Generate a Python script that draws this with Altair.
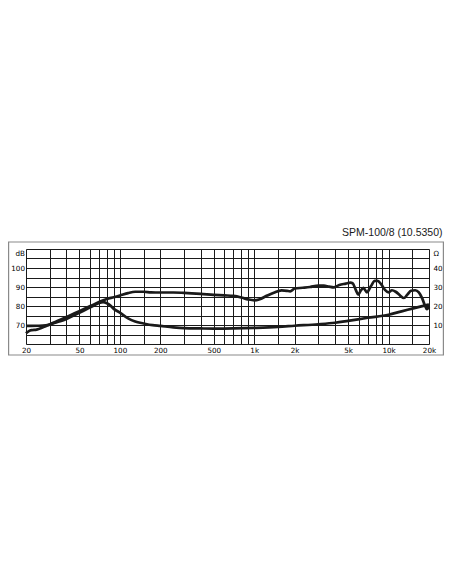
import altair as alt
import pandas as pd

# ---- data ----
title_text = "SPM-100/8 (10.5350)"

spl_freq = [20, 21, 22, 24, 26, 28, 30, 33, 36, 40, 46, 54, 63, 72, 80, 90, 100, 115, 130, 150,
            170, 200, 250, 300, 400, 500, 600, 700, 800, 900, 1000, 1100, 1250, 1400, 1600, 1750,
            1850, 2000, 2300, 2600, 3000, 3300, 3600, 3900, 4300, 4800, 5200, 5400, 5700, 5950,
            6200, 6500, 6900, 7400, 7900, 8300, 8800, 9400, 10000, 10600, 11300, 12200, 13000,
            13800, 14700, 15800, 16800, 17800, 18600, 19300, 20000]
spl_db = [65.6, 66.8, 67.3, 67.6, 68.4, 69.4, 70.3, 71.6, 72.8, 74.2, 76.2, 78.4, 80.6, 82.5, 83.7,
          84.6, 85.5, 86.8, 87.5, 87.5, 87.2, 87.1, 87.1, 86.9, 86.4, 85.9, 85.6, 85.3, 84.5, 83.5,
          83.0, 83.6, 85.5, 87.0, 88.2, 88.0, 87.7, 89.2, 89.6, 90.0, 90.7, 90.7, 90.2, 89.8, 91.1,
          91.8, 92.3, 92.0, 88.5, 86.0, 88.0, 89.5, 87.2, 90.5, 93.2, 93.2, 91.5, 88.5, 87.2, 88.3,
          87.5, 85.5, 84.2, 86.0, 88.0, 88.3, 87.2, 84.0, 80.5, 78.3, 79.8]

imp_freq = [20, 25, 28, 30, 33, 36, 40, 46, 54, 63, 70, 75, 80, 85, 90, 100, 115, 130, 150, 175,
            200, 250, 300, 400, 500, 700, 1000, 1500, 2000, 3000, 4000, 5000, 7000, 10000, 12500,
            15000, 17500, 20000]
imp_ohm = [9.5, 9.6, 9.8, 10.2, 11.2, 12.0, 13.2, 15.2, 17.6, 20.0, 21.6, 22.0, 21.4, 20.2, 18.5,
           16.5, 13.5, 11.8, 10.8, 9.9, 9.5, 8.8, 8.4, 8.2, 8.1, 8.2, 8.5, 9.0, 9.6, 10.4, 11.2,
           12.2, 13.8, 15.4, 17.2, 18.6, 19.8, 20.8]

x_grid = [20, 30, 40, 50, 60, 70, 80, 90, 100, 150, 200, 300, 400, 500, 600, 700, 800, 900,
          1000, 1500, 2000, 3000, 4000, 5000, 6000, 7000, 8000, 9000, 10000, 15000, 20000]
x_label_values = [20, 50, 100, 200, 500, 1000, 2000, 5000, 10000, 20000]
db_grid = [60, 65, 70, 75, 80, 85, 90, 95, 100, 105, 110]
ohm_ticks = [10, 20, 30, 40, 50]

spl_df = pd.DataFrame({"f": spl_freq, "v": spl_db})
imp_df = pd.DataFrame({"f": imp_freq, "v": imp_ohm})

PAD_L, W, H = 18, 403, 95
PAD_R = 436 - PAD_L - W
INK = "#1a1a1a"
LABEL_FONT = "DejaVu Sans"

label_list = ",".join(str(v) for v in x_label_values)
x_label_expr = (
    f"indexof([{label_list}], datum.value) >= 0 ? "
    "(datum.value >= 1000 ? (datum.value / 1000) + 'k' : '' + datum.value) : ''"
)

x_enc = alt.X(
    "f:Q",
    scale=alt.Scale(type="log", domain=[20, 20000], nice=False),
    axis=alt.Axis(
        values=x_grid, labelExpr=x_label_expr, grid=True, gridColor=INK, gridWidth=1,
        domain=False, ticks=False, labelPadding=2, labelFont=LABEL_FONT, labelFontSize=7.2,
        labelColor="#000000", labelOverlap=False, labelFlush=False, title=None,
    ),
)

top_baseline = {"condition": {"test": "datum.value == 110 || datum.value == 50", "value": "top"},
                "value": "middle"}

spl = alt.Chart(spl_df).mark_line(color=INK, strokeWidth=2.7, interpolate="monotone").encode(
    x=x_enc,
    y=alt.Y(
        "v:Q",
        scale=alt.Scale(domain=[60, 110], nice=False, zero=False),
        axis=alt.Axis(
            orient="left", values=db_grid,
            labelExpr="datum.value == 110 ? 'dB' : (datum.value % 10 == 0 && datum.value > 60 ? '' + datum.value : '')",
            grid=True, gridColor=INK, gridWidth=1, domain=False, ticks=False, labelPadding=1.5,
            labelFont=LABEL_FONT, labelFontSize=7.2, labelColor="#000000", labelOverlap=False,
            labelFlush=False, labelBaseline=top_baseline, title=None,
        ),
    ),
)

imp = alt.Chart(imp_df).mark_line(color=INK, strokeWidth=2.7, interpolate="monotone").encode(
    x=x_enc,
    y=alt.Y(
        "v:Q",
        scale=alt.Scale(domain=[0, 50], nice=False, zero=False),
        axis=alt.Axis(
            orient="right", values=ohm_ticks,
            labelExpr="datum.value == 50 ? 'Ω' : '' + datum.value",
            grid=False, domain=False, ticks=False, labelPadding=4,
            labelFont=LABEL_FONT, labelFontSize=7.2, labelColor="#000000", labelOverlap=False,
            labelFlush=False, labelBaseline=top_baseline, title=None,
        ),
    ),
)

frame = alt.Chart(pd.DataFrame({"a": [0]})).mark_rect(
    fill="white", fillOpacity=0, stroke="#8a8a8a", strokeWidth=1.2
).encode(
    x=alt.value(-(PAD_L - 0.6)), x2=alt.value(W + PAD_R - 0.6),
    y=alt.value(-7), y2=alt.value(H + 11)
)

chart = (
    alt.layer(frame, spl, imp)
    .resolve_scale(y="independent")
    .properties(
        width=W,
        height=H,
        padding={"left": PAD_L, "top": 241, "right": PAD_R, "bottom": 40},
        autosize=alt.AutoSizeParams(type="none"),
        title=alt.TitleParams(
            text=title_text, anchor="end", frame="group", dx=PAD_R - 1.5, dy=18, baseline="middle",
            offset=16, font="Liberation Sans", fontSize=10.5, fontWeight="normal", color=INK,
        ),
    )
    .configure_view(stroke=INK, strokeWidth=1.2)
    .configure(background="white")
)

chart.save("out.html", embed_options={"renderer": "svg", "actions": False})
